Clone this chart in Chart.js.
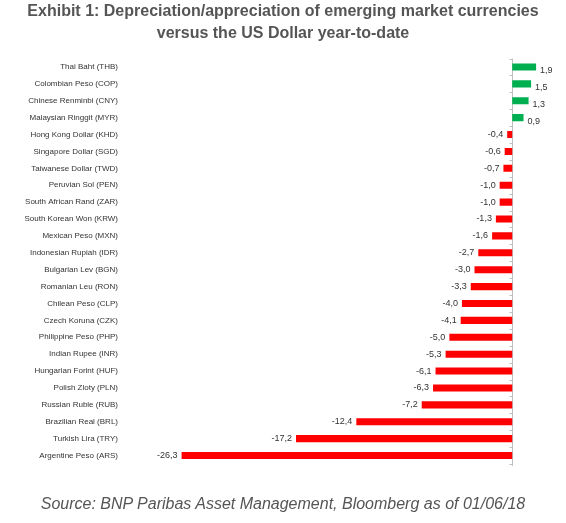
<!DOCTYPE html>
<html lang="en">
  <head>
    <meta charset="utf-8" />
    <title>EM currencies vs USD</title>
    <style>
      body { margin: 0; background: #fff; }
      .wrap { position: relative; width: 566px; height: 523px; }
      .title {
        position: absolute; left: 0; top: 0; width: 566px;
        text-align: center; font: bold 16px "Liberation Sans", Arial, sans-serif;
        line-height: 22px; color: #555;
      }
      .source {
        position: absolute; left: 0; top: 495px; width: 566px;
        text-align: center; font: italic 16px "Liberation Sans", Arial, sans-serif;
        color: #555;
      }
      canvas { position: absolute; left: 0; top: 0; }
    </style>
  </head>
  <body>
    <div class="wrap">
      <canvas id="myChart" width="566" height="523"></canvas>
      <div class="title">Exhibit 1: Depreciation/appreciation of emerging market currencies<br />versus the US Dollar year-to-date</div>
      <div class="source">Source: BNP Paribas Asset Management, Bloomberg as of 01/06/18</div>
    </div>
    <script src="https://cdn.jsdelivr.net/npm/chart.js/dist/chart.umd.min.js"></script>
    <script>
      const currencies = [
        "Thai Baht (THB)", "Colombian Peso (COP)", "Chinese Renminbi (CNY)",
        "Malaysian Ringgit (MYR)", "Hong Kong Dollar (KHD)", "Singapore Dollar (SGD)",
        "Taiwanese Dollar (TWD)", "Peruvian Sol (PEN)", "South African Rand (ZAR)",
        "South Korean Won (KRW)", "Mexican Peso (MXN)", "Indonesian Rupiah (IDR)",
        "Bulgarian Lev (BGN)", "Romanian Leu (RON)", "Chilean Peso (CLP)",
        "Czech Koruna (CZK)", "Philippine Peso (PHP)", "Indian Rupee (INR)",
        "Hungarian Forint (HUF)", "Polish Zloty (PLN)", "Russian Ruble (RUB)",
        "Brazilian Real (BRL)", "Turkish Lira (TRY)", "Argentine Peso (ARS)"
      ];
      const changeYtd = [
        1.9, 1.5, 1.3, 0.9, -0.4, -0.6, -0.7, -1.0, -1.0, -1.3, -1.6, -2.7,
        -3.0, -3.3, -4.0, -4.1, -5.0, -5.3, -6.1, -6.3, -7.2, -12.4, -17.2, -26.3
      ];

      const labelFont = '"Liberation Sans", Arial, sans-serif';

      // zero axis line with small ticks, then value labels
      const valueLabels = {
        id: "valueLabels",
        beforeDatasetsDraw(chart) {
          const ctx = chart.ctx;
          const area = chart.chartArea;
          const x0 = Math.round(chart.scales.x.getPixelForValue(0)) + 0.5;
          ctx.save();
          ctx.strokeStyle = "#bfbfbf";
          ctx.lineWidth = 1;
          ctx.beginPath();
          ctx.moveTo(x0, area.top);
          ctx.lineTo(x0, area.bottom + 2);
          ctx.stroke();
          const step = area.height / currencies.length;
          for (let i = 0; i <= currencies.length; i++) {
            const yy = Math.round(area.top + i * step) + 0.5;
            ctx.beginPath();
            ctx.moveTo(x0 - 3, yy);
            ctx.lineTo(x0, yy);
            ctx.stroke();
          }
          ctx.restore();
        },
        afterDatasetsDraw(chart) {
          const ctx = chart.ctx;
          const meta = chart.getDatasetMeta(0);
          ctx.save();
          ctx.font = "9px " + labelFont;
          ctx.fillStyle = "#333";
          ctx.textBaseline = "middle";
          meta.data.forEach((bar, i) => {
            const v = changeYtd[i];
            const txt = v.toFixed(1).replace(".", ",");
            if (v < 0) {
              ctx.textAlign = "right";
              ctx.fillText(txt, bar.x - 4, bar.y);
            } else {
              ctx.textAlign = "left";
              ctx.fillText(txt, bar.x + 4, bar.y + 4);
            }
          });
          ctx.restore();
        },
      };

      const data = {
        labels: currencies,
        datasets: [
          {
            data: changeYtd,
            backgroundColor: changeYtd.map((v) => (v < 0 ? "#ff0000" : "#00b050")),
            borderWidth: 0,
            barPercentage: 0.42,
            categoryPercentage: 1,
          },
        ],
      };

      const config = {
        type: "bar",
        data,
        options: {
          indexAxis: "y",
          responsive: false,
          animation: false,
          layout: { padding: { top: 58.5, bottom: 59, right: 6, left: 0 } },
          plugins: { legend: { display: false }, tooltip: { enabled: false } },
          scales: {
            x: {
              min: -31.2,
              max: 3.8,
              ticks: { display: false },
              border: { display: false },
              grid: { display: false, drawTicks: false },
            },
            y: {
              afterFit: (s) => { s.width = 120; },
              border: { display: false },
              grid: { display: false, drawTicks: false },
              ticks: {
                color: "#333",
                font: { family: labelFont, size: 8 },
                padding: 2,
                autoSkip: false,
              },
            },
          },
        },
        plugins: [valueLabels],
      };

      const myChart = new Chart(document.getElementById("myChart"), config);
    </script>
  </body>
</html>
